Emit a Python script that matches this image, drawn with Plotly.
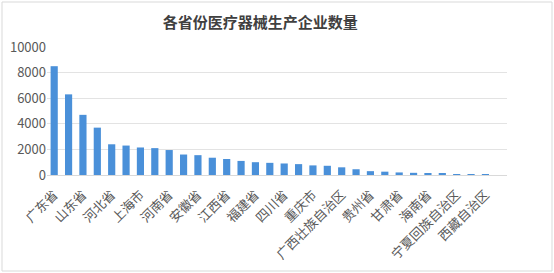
import plotly.graph_objects as go

provinces = ["广东省", "江苏省", "山东省", "浙江省", "河北省", "北京市", "上海市", "湖南省",
             "河南省", "湖北省", "安徽省", "天津市", "江西省", "辽宁省", "福建省", "陕西省",
             "四川省", "吉林省", "重庆市", "云南省", "广西壮族自治区", "黑龙江省", "贵州省", "山西省",
             "甘肃省", "内蒙古自治区", "海南省", "新疆维吾尔自治区", "宁夏回族自治区", "青海省", "西藏自治区"]
counts = [8500, 6300, 4700, 3700, 2400, 2300, 2150, 2100,
          1950, 1600, 1550, 1350, 1250, 1100, 1000, 950,
          900, 850, 750, 720, 600, 450, 300, 260,
          200, 170, 140, 100, 70, 30, 10]
shown_labels = provinces[::2]
y_ticks = [0, 2000, 4000, 6000, 8000, 10000]
title = "各省份医疗器械生产企业数量"

font = "Noto Sans CJK SC"
fig = go.Figure(go.Bar(x=provinces, y=counts, marker=dict(color="#4a90d9", line=dict(width=0))))
fig.update_layout(
    width=554, height=273,
    margin=dict(l=47, r=47, t=47, b=98),
    paper_bgcolor="white", plot_bgcolor="white",
    bargap=0.5,
    showlegend=False,
    font=dict(family=font, color="#595959", size=12),
    title=dict(text="<b>" + title + "</b>", x=0.47, xanchor="center", y=0.915, yanchor="middle",
               font=dict(family=font, size=15, color="#404040")),
)
fig.add_shape(type="rect", xref="paper", yref="paper",
              x0=-45/460, x1=1 + 45/460, y0=-96/128, y1=1 + 45/128,
              line=dict(color="#d9d9d9", width=1))
fig.update_xaxes(type="category", tickmode="array", tickvals=shown_labels, ticktext=shown_labels,
                 range=[-0.5, len(provinces) + 0.5], automargin=False,
                 tickangle=-45, showgrid=False, showline=True, linecolor="#d9d9d9",
                 ticks="outside", ticklen=6, tickcolor="rgba(0,0,0,0)",
                 tickfont=dict(size=13, color="#595959"))
fig.update_yaxes(range=[0, 10000], tickvals=y_ticks, ticktext=[str(v) for v in y_ticks],
                 showgrid=True, gridcolor="#e3e3e3", automargin=False,
                 zeroline=False, showline=False, tickfont=dict(size=13, color="#595959"))
fig.write_html("out.html")
